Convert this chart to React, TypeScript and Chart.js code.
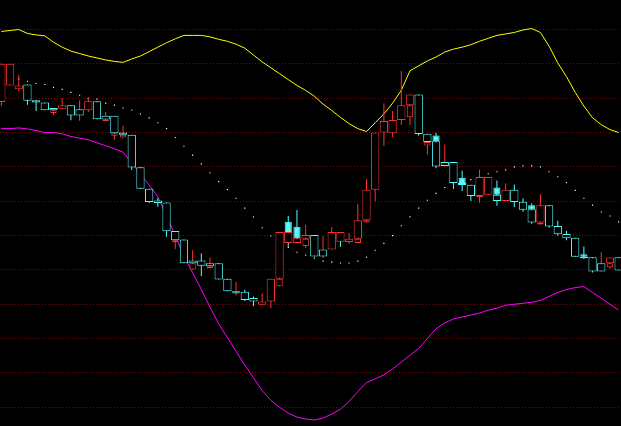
import React, { useEffect, useRef } from 'react';
import { Chart, registerables } from 'chart.js';

Chart.register(...registerables);

// 72 trading sessions (first and last partly cut off)
const days: string[] = Array.from({ length: 72 }, (_, i) => `D${i + 1}`);

const open = [
  7.11, 7.28, 7.24, 7.29, 7.13, 7.105, 7.05, 7.043, 7.077, 7.037,
  7.027, 7.12, 6.97, 6.97, 6.80, 6.777, 6.447, 6.227, 6.107, 6.087,
  5.797, 5.71, 5.497, 5.497, 5.467, 5.467, 5.31, 5.183, 5.177, 5.113,
  5.045, 5.077, 5.31, 5.89, 5.84, 5.717, 5.757, 5.607, 5.607, 5.687,
  5.685, 5.717, 5.905, 6.217, 6.80, 6.793, 6.927, 7.077, 7.187, 6.788,
  6.77, 6.50, 6.50, 6.34, 6.267, 6.153, 6.167, 6.24, 6.103, 6.217,
  6.095, 6.06, 5.883, 6.06, 5.847, 5.767, 5.728, 5.56, 5.53, 5.467,
  5.467, 5.53,
];
const close = [
  7.50, 7.50, 7.28, 7.125, 7.105, 7.027, 7.027, 7.077, 6.973, 6.973,
  7.12, 6.935, 6.933, 6.793, 6.777, 6.443, 6.227, 6.093, 6.083, 5.793,
  5.703, 5.467, 5.467, 5.443, 5.437, 5.303, 5.183, 5.167, 5.093, 5.077,
  5.077, 5.31, 5.787, 5.787, 5.723, 5.757, 5.537, 5.537, 5.787, 5.787,
  5.717, 5.907, 6.218, 6.80, 6.917, 6.927, 7.077, 7.187, 6.785, 6.703,
  6.71, 6.458, 6.287, 6.287, 6.153, 6.347, 6.347, 6.167, 6.217, 6.093,
  6.013, 6.017, 6.06, 5.843, 5.763, 5.723, 5.533, 5.533, 5.383, 5.383,
  5.527, 5.393,
];
const high = [
  7.50, 7.50, 7.39, 7.29, 7.13, 7.105, 7.05, 7.15, 7.077, 7.13,
  7.16, 7.12, 7.01, 6.97, 6.87, 6.777, 6.447, 6.227, 6.133, 6.087,
  5.797, 5.71, 5.60, 5.57, 5.527, 5.467, 5.31, 5.277, 5.197, 5.13,
  5.16, 5.31, 5.787, 5.95, 6.01, 5.86, 5.757, 5.743, 5.837, 5.787,
  5.777, 6.068, 6.327, 6.80, 7.097, 7.02, 7.428, 7.187, 7.187, 6.788,
  6.795, 6.678, 6.50, 6.41, 6.267, 6.42, 6.347, 6.31, 6.283, 6.27,
  6.13, 6.08, 6.17, 6.06, 5.90, 5.80, 5.728, 5.638, 5.53, 5.58,
  5.527, 5.53,
];
const low = [
  7.07, 7.28, 7.22, 7.083, 7.02, 7.027, 6.98, 7.043, 6.925, 6.92,
  7.01, 6.935, 6.917, 6.723, 6.745, 6.417, 6.227, 6.083, 6.043, 5.737,
  5.613, 5.467, 5.403, 5.335, 5.417, 5.303, 5.183, 5.143, 5.083, 5.03,
  5.045, 5.01, 5.233, 5.635, 5.675, 5.623, 5.537, 5.52, 5.607, 5.633,
  5.667, 5.675, 5.883, 6.10, 6.663, 6.753, 6.877, 6.877, 6.767, 6.577,
  6.437, 6.458, 6.225, 6.205, 6.103, 6.085, 6.167, 6.053, 6.103, 6.04,
  5.993, 5.87, 5.863, 5.83, 5.747, 5.703, 5.533, 5.51, 5.373, 5.383,
  5.413, 5.393,
];

// secondary (overlapping) bodies
const extraOpen: (number | null)[] = [
  null, null, null, null, null, null, 7.00, null, null, null,
  null, null, 6.917, 6.767, 6.75, null, null, null, null, null,
  5.683, null, 5.403, null, 5.417, null, null, 5.157, null, null,
  null, null, 5.233, 5.675, 5.675, 5.643, null, null, null, null,
  null, 5.675, 5.883, null, null, null, null, 6.957, null, 6.667,
  6.71, null, null, 6.287, null, 6.143, null, 6.167, null, null,
  null, 6.017, 5.863, null, null, null, null, 5.533, null, null,
  5.427, null,
];
const extraClose: (number | null)[] = [
  null, null, null, null, null, null, 7.027, null, null, null,
  null, null, 6.933, 6.793, 6.777, null, null, null, null, null,
  5.703, null, 5.467, null, 5.437, null, null, 5.167, null, null,
  null, null, 5.31, 5.787, 5.723, 5.717, null, null, null, null,
  null, 5.717, 5.905, null, null, null, null, 7.077, null, 6.703,
  6.453, null, null, 6.265, null, 6.153, null, 6.103, null, null,
  null, 5.883, 5.883, null, null, null, null, 5.52, null, null,
  5.467, null,
];

// 1 = solid body
const filled = [
  0, 0, 0, 0, 0, 0, 0, 0, 0, 0,
  0, 0, 0, 0, 0, 0, 0, 0, 0, 0,
  0, 0, 0, 0, 0, 0, 0, 0, 0, 0,
  0, 0, 0, 1, 1, 0, 0, 0, 0, 0,
  0, 0, 0, 0, 0, 0, 0, 0, 0, 0,
  1, 0, 0, 1, 0, 0, 0, 1, 0, 0,
  0, 1, 0, 0, 0, 0, 0, 1, 0, 0,
  0, 0,
];
// 1 = shadow drawn in the rising colour
const wickUp = [
  1, 1, 1, 0, 0, 0, 1, 1, 0, 1,
  1, 0, 1, 1, 1, 0, 0, 0, 0, 0,
  1, 0, 1, 0, 1, 0, 0, 1, 0, 0,
  1, 1, 1, 0, 0, 1, 0, 1, 1, 0,
  1, 1, 1, 1, 1, 1, 1, 1, 0, 1,
  0, 1, 0, 0, 0, 1, 1, 0, 1, 0,
  0, 0, 1, 0, 0, 0, 0, 0, 0, 1,
  1, 0,
];

// Bollinger bands
const upperBand = [
  7.83, 7.84, 7.85, 7.81, 7.795, 7.785, 7.72, 7.67, 7.63, 7.605,
  7.58, 7.56, 7.54, 7.525, 7.515, 7.55, 7.58, 7.625, 7.67, 7.715,
  7.755, 7.79, 7.79, 7.79, 7.775, 7.75, 7.73, 7.70, 7.66, 7.59,
  7.52, 7.46, 7.40, 7.34, 7.28, 7.23, 7.17, 7.09, 7.025, 6.955,
  6.89, 6.84, 6.81, 6.90, 6.99, 7.10, 7.23, 7.43, 7.48, 7.53,
  7.57, 7.62, 7.65, 7.67, 7.695, 7.73, 7.76, 7.79, 7.805, 7.82,
  7.845, 7.86, 7.82, 7.68, 7.51, 7.37, 7.21, 7.07, 6.95, 6.88,
  6.83, 6.80,
];
const midBand = [
  7.335, 7.34, 7.345, 7.323, 7.30, 7.29, 7.26, 7.24, 7.21, 7.18,
  7.15, 7.14, 7.10, 7.08, 7.05, 7.03, 6.99, 6.95, 6.90, 6.84,
  6.75, 6.66, 6.57, 6.48, 6.39, 6.30, 6.22, 6.13, 6.03, 5.94,
  5.83, 5.745, 5.70, 5.63, 5.58, 5.55, 5.52, 5.49, 5.48, 5.47,
  5.47, 5.49, 5.53, 5.60, 5.67, 5.75, 5.85, 5.94, 6.03, 6.11,
  6.18, 6.24, 6.28, 6.30, 6.32, 6.35, 6.38, 6.40, 6.42, 6.45,
  6.46, 6.46, 6.45, 6.40, 6.35, 6.29, 6.21, 6.13, 6.06, 5.99,
  5.95, 5.89,
];
const lowerBand = [
  6.84, 6.84, 6.847, 6.837, 6.82, 6.80, 6.80, 6.787, 6.76, 6.743,
  6.727, 6.695, 6.665, 6.635, 6.60, 6.49, 6.375, 6.265, 6.145, 5.95,
  5.75, 5.54, 5.37, 5.20, 5.02, 4.85, 4.71, 4.57, 4.43, 4.30,
  4.17, 4.07, 4.00, 3.94, 3.90, 3.88, 3.87, 3.89, 3.93, 3.98,
  4.06, 4.16, 4.25, 4.29, 4.33, 4.39, 4.46, 4.53, 4.60, 4.70,
  4.80, 4.86, 4.90, 4.92, 4.94, 4.96, 4.99, 5.01, 5.04, 5.05,
  5.06, 5.07, 5.09, 5.13, 5.17, 5.20, 5.22, 5.23, 5.17, 5.11,
  5.05, 4.99,
];

// horizontal dotted grid levels
const gridLevels = [4.0, 4.35, 4.7, 5.05, 5.4, 5.75, 6.1, 6.45, 6.8, 7.15, 7.5, 7.85];
const yMin = 3.85;
const yMax = 8.11;

const RED = '#ff3232';
const CYAN = '#54fcfc';

export default function App() {
  const ref = useRef<HTMLCanvasElement>(null);

  useEffect(() => {
    document.documentElement.style.background = '#000';
    document.body.style.background = '#000';
    document.body.style.margin = '0';
    document.body.style.overflow = 'hidden';
    document.documentElement.style.overflow = 'hidden';

    const col = (o: number, c: number) => (c >= o ? RED : CYAN);
    const has = (i: number) => extraOpen[i] != null && extraClose[i] != null;

    const wickData = days.map((_, i) => [low[i], high[i]]);
    const wickColors = wickUp.map((u) => (u ? RED : CYAN));
    const hollowData = days.map((_, i) => (filled[i] ? null : [open[i], close[i]]));
    const solidData = days.map((_, i) => (filled[i] ? [open[i], close[i]] : null));
    const bodyColors = days.map((_, i) => col(open[i], close[i]));
    const extraWide = days.map((_, i) => (filled[i] && has(i) ? [extraOpen[i], extraClose[i]] : null));
    const extraNarrow = days.map((_, i) => (!filled[i] && has(i) ? [extraOpen[i], extraClose[i]] : null));
    const extraColors = days.map((_, i) => (has(i) ? col(extraOpen[i] as number, extraClose[i] as number) : RED));

    const barCommon = {
      type: 'bar' as const,
      grouped: false,
      categoryPercentage: 1,
      borderSkipped: false as const,
      borderWidth: 1,
      inflateAmount: 0,
    };

    const chart = new Chart(ref.current as HTMLCanvasElement, {
      type: 'bar',
      data: {
        labels: days,
        datasets: [
          {
            type: 'line',
            data: upperBand,
            borderColor: '#ffff00',
            borderWidth: 1,
            pointRadius: 0,
            tension: 0,
            order: 10,
          } as any,
          {
            type: 'line',
            data: lowerBand,
            borderColor: '#ff00ff',
            borderWidth: 1,
            pointRadius: 0,
            tension: 0,
            order: 10,
          } as any,
          {
            type: 'line',
            data: midBand,
            showLine: false,
            pointStyle: 'rect',
            pointRadius: 0.8,
            pointBorderWidth: 0,
            borderWidth: 0,
            backgroundColor: '#ffffff',
            pointBackgroundColor: '#ffffff',
            order: 9,
          } as any,
          {
            type: 'bar',
            data: wickData,
            backgroundColor: wickColors,
            borderWidth: 0,
            grouped: false,
            barPercentage: 1,
            categoryPercentage: 1,
            maxBarThickness: 1,
            inflateAmount: 0,
            order: 6,
          } as any,
          {
            ...barCommon,
            data: extraNarrow,
            backgroundColor: '#000',
            borderColor: extraColors,
            barPercentage: 0.73,
            order: 4,
          } as any,
          {
            ...barCommon,
            data: extraWide,
            backgroundColor: '#000',
            borderColor: extraColors,
            barPercentage: 0.955,
            order: 3,
          } as any,
          {
            ...barCommon,
            data: hollowData,
            backgroundColor: '#000',
            borderColor: bodyColors,
            barPercentage: 0.955,
            order: 2,
          } as any,
          {
            ...barCommon,
            data: solidData,
            backgroundColor: CYAN,
            borderColor: CYAN,
            barPercentage: 0.82,
            order: 1,
          } as any,
        ],
      },
      options: {
        animation: false,
        responsive: false,
        maintainAspectRatio: false,
        events: [],
        layout: { padding: 0 },
        plugins: {
          legend: { display: false },
          tooltip: { enabled: false },
          title: { display: false },
        },
        scales: {
          x: {
            display: false,
            offset: true,
            grid: { display: false },
          },
          y: {
            min: yMin,
            max: yMax,
            afterBuildTicks: (axis: any) => {
              axis.ticks = gridLevels.map((v) => ({ value: v }));
            },
            ticks: { display: false },
            grid: { color: '#8a0000', lineWidth: 1, drawTicks: false },
            border: { display: false, dash: [1, 2] },
          },
        },
      } as any,
    });

    return () => chart.destroy();
  }, []);

  return (
    <div
      style={{
        position: 'fixed',
        left: -7,
        top: 0,
        width: 634,
        height: 426,
        background: '#000',
      }}
    >
      <canvas ref={ref} width={634} height={426} style={{ display: 'block' }} />
    </div>
  );
}
